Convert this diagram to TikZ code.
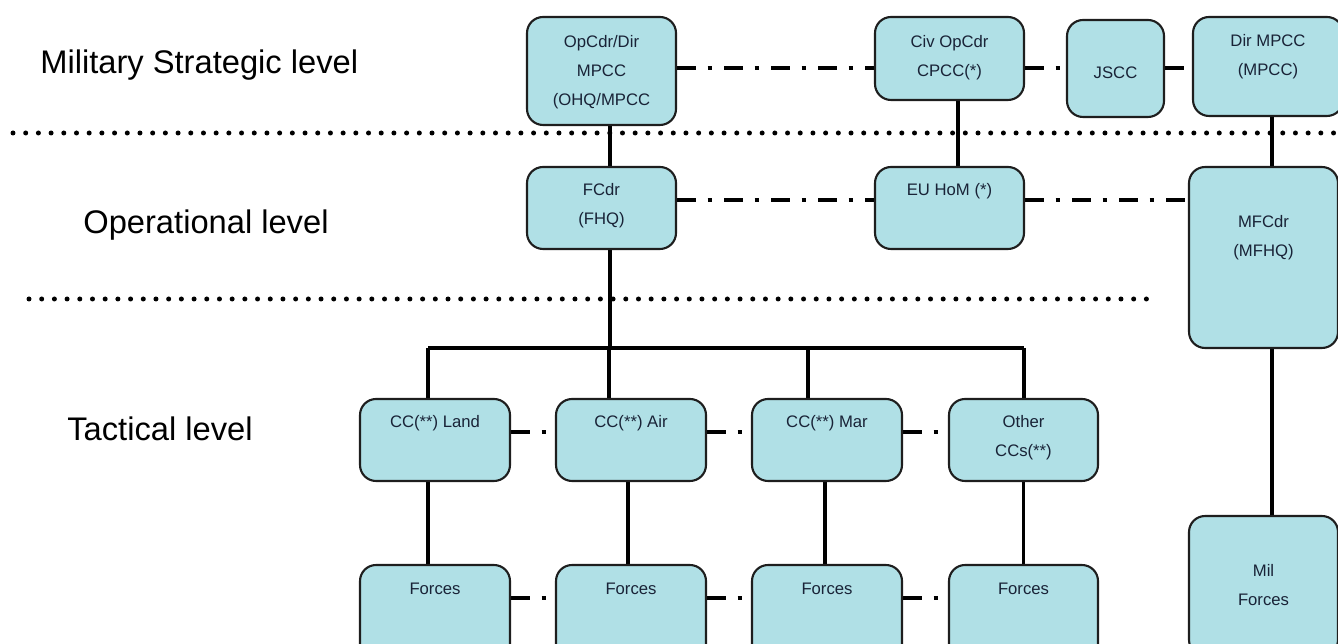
\documentclass[tikz,border=0pt]{standalone}
\usepackage{fontspec}
\setmainfont{Liberation Sans}
\usetikzlibrary{positioning, backgrounds}
\definecolor{Cyan20}{RGB}{176, 224, 230}
\definecolor{Grey90}{RGB}{30, 30, 30}
\definecolor{Navy90}{RGB}{25, 35, 55}
\tikzset{
    riquadro/.style = {draw=Grey90, line width=1.2pt, fill=Cyan20, rounded corners=0.32cm, inner sep=0pt},
    testo/.style = {align=center, text=Navy90, font=\fontsize{9.5}{16.5}\selectfont, inner sep=0pt},
    livello/.style = {anchor=west, inner sep=0pt, font=\fontsize{18.6}{22}\selectfont},
    collegamento/.style = {line width=2.2pt},
    tratto punto/.style = {line width=2.5pt, dash pattern=on 0.38cm off 0.23cm on 0.08cm off 0.25cm},
    separatore/.style = {line width=0.1cm, line cap=round, dash pattern=on 0pt off 0.254cm}
}

\begin{document}
\begin{tikzpicture}[
    x=0.02cm, y=-0.02cm,
    largo/.style = {minimum width=2.98cm},
    ]
    \clip (0,0) rectangle (1338,644);
    \useasboundingbox (0,0) rectangle (1338,644);

    %%% Levels
    \node [livello] (strategico) at (40,65)  {Military Strategic level};
    \node [livello] (operativo)  at (83,225) {Operational level};
    \node [livello] (tattico)    at (67,429) {Tactical level};

    %%% Boxes
    % strategic
    \node [riquadro, largo, minimum height=2.16cm] (opcdr) at (601.5,71)  {};
    \node [riquadro, largo, minimum height=1.66cm] (civ)   at (949.5,58.5) {};
    \node [riquadro, minimum width=1.94cm, minimum height=1.94cm] (jscc) at (1115.5,68.5) {};
    \node [riquadro, minimum width=3.0cm, minimum height=1.98cm] (dir) at (1268,66.5) {};
    % operational
    \node [riquadro, largo, minimum height=1.64cm] (fcdr)  at (601.5,208) {};
    \node [riquadro, largo, minimum height=1.64cm] (euhom) at (949.5,208) {};
    \node [riquadro, largo, minimum height=3.62cm] (mfcdr) at (1263.5,257.5) {};
    % tactical
    \node [riquadro, minimum width=3.0cm, minimum height=1.64cm] (land)  at (435,440)  {};
    \node [riquadro, minimum width=3.0cm, minimum height=1.64cm] (air)   at (631,440)  {};
    \node [riquadro, minimum width=3.0cm, minimum height=1.64cm] (mar)   at (827,440)  {};
    \node [riquadro, largo, minimum height=1.64cm] (other) at (1023.5,440) {};
    \node [riquadro, minimum width=3.0cm, minimum height=2.0cm] (forces1) at (435,615) {};
    \node [riquadro, minimum width=3.0cm, minimum height=2.0cm] (forces2) at (631,615) {};
    \node [riquadro, minimum width=3.0cm, minimum height=2.0cm] (forces3) at (827,615) {};
    \node [riquadro, largo, minimum height=2.0cm] (forces4) at (1023.5,615) {};
    \node [riquadro, largo, minimum height=2.8cm] (mil) at (1263.5,586) {};

    %%% Texts
    \node [testo] (opcdr testo) at (601.5,72)   {OpCdr/Dir\\MPCC\\(OHQ/MPCC};
    \node [testo] (civ testo)   at (949.5,57.5) {Civ OpCdr\\CPCC(*)};
    \node [testo] (jscc testo)  at (1115.5,73)  {JSCC};
    \node [testo] (dir testo)   at (1268,57)    {Dir MPCC\\(MPCC)};
    \node [testo] (fcdr testo)  at (601.5,206)  {FCdr\\(FHQ)};
    \node [testo] (euhom testo) at (949.5,191)  {EU HoM (*)};
    \node [testo] (mfcdr testo) at (1263.5,238) {MFCdr\\(MFHQ)};
    \node [testo] (land testo)  at (435,423)    {CC(**) Land};
    \node [testo] (air testo)   at (631,423)    {CC(**) Air};
    \node [testo] (mar testo)   at (827,423)    {CC(**) Mar};
    \node [testo] (other testo) at (1023.5,438) {Other\\CCs(**)};
    \foreach \i/\x in {1/435, 2/631, 3/827, 4/1023.5}
        \node [testo] (forces\i{} testo) at (\x,589) {Forces};
    \node [testo] (mil testo) at (1263.5,585.5) {Mil\\Forces};

    %%% Connectors
    \coordinate (bus) at (610,348);
    \coordinate (b1)  at (428,348);
    \coordinate (b2)  at (609,348);
    \coordinate (b3)  at (808,348);
    \coordinate (b4)  at (1024,348);

    \begin{pgfonlayer}{background}
        % separators
        \draw[separatore] (13,133) -- (1338,133);
        \draw[separatore] (29,299) -- (1150,299);

        % command lines
        \draw[collegamento] ([xshift=0.17cm]opcdr.south) -- ([xshift=0.17cm]fcdr.north);
        \draw[collegamento] (fcdr.south -| bus) -- (bus);
        \draw[collegamento] (b1) -- (b4);
        \draw[collegamento] (b1) -- (b1 |- land.north);
        \draw[collegamento] (b2) -- (b2 |- air.north);
        \draw[collegamento] (b3) -- (b3 |- mar.north);
        \draw[collegamento] (b4) -- (b4 |- other.north);
        \draw[collegamento] ([xshift=-0.14cm]land.south) -- ([xshift=-0.14cm]forces1.north);
        \draw[collegamento] ([xshift=-0.06cm]air.south) -- ([xshift=-0.06cm]forces2.north);
        \draw[collegamento] ([xshift=-0.04cm]mar.south) -- ([xshift=-0.04cm]forces3.north);
        \draw[collegamento] (other.south) -- (forces4.north);
        \draw[collegamento] ([xshift=0.17cm]civ.south) -- ([xshift=0.17cm]euhom.north);
        \draw[collegamento] ([xshift=0.17cm]mfcdr.north |- dir.south) -- ([xshift=0.17cm]mfcdr.north);
        \draw[collegamento] ([xshift=0.17cm]mfcdr.south) -- ([xshift=0.17cm]mil.north);

        % coordination lines
        \draw[tratto punto] ([yshift=0.06cm]opcdr.east) -- ([yshift=0.06cm]opcdr.east -| civ.west);
        \draw[tratto punto] ([yshift=0.01cm]jscc.west -| civ.east) -- ([yshift=0.01cm]jscc.west);
        \draw[tratto punto] ([yshift=0.01cm]jscc.east) -- ([yshift=0.01cm]jscc.east -| dir.west);
        \draw[tratto punto] ([yshift=0.16cm]fcdr.east) -- ([yshift=0.16cm]euhom.west);
        \draw[tratto punto] ([yshift=0.16cm]euhom.east) -- ([yshift=0.16cm]euhom.east -| mfcdr.west);
        \foreach \a/\b in {land/air, air/mar, mar/other}
            \draw[tratto punto] ([yshift=0.16cm]\a.east) -- ([yshift=0.16cm]\b.west);
        \foreach \a/\b in {forces1/forces2, forces2/forces3, forces3/forces4}
            \draw[tratto punto] ([yshift=0.34cm]\a.east) -- ([yshift=0.34cm]\b.west);
    \end{pgfonlayer}
\end{tikzpicture}
\end{document}
